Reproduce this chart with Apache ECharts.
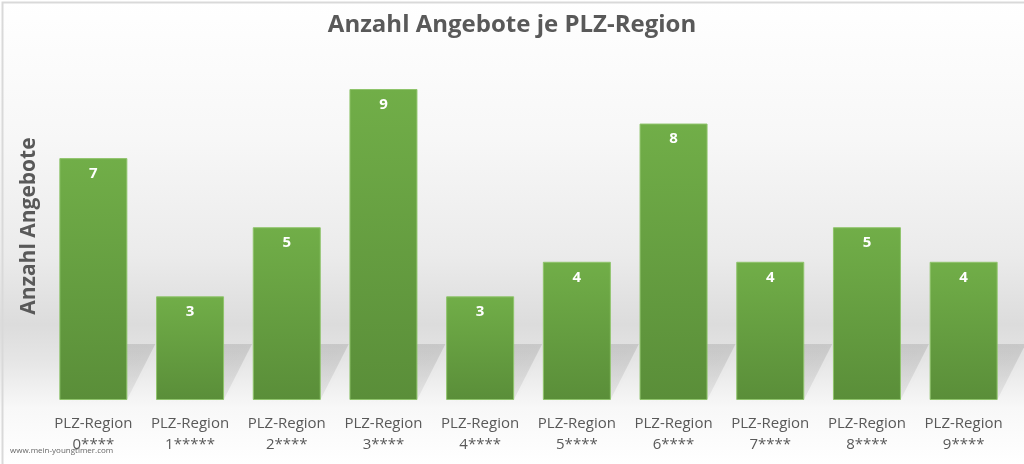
<!DOCTYPE html>
<html>
<head>
<meta charset="utf-8">
<script src="https://cdn.jsdelivr.net/npm/echarts@6/dist/echarts.min.js"></script>
<style>
  html, body { margin: 0; padding: 0; background: #fff; }
  #chart { width: 1024px; height: 464px; }
</style>
</head>
<body>
<div id="chart"></div>
<script>
const regions = ["0****", "1*****", "2****", "3****", "4****", "5****", "6****", "7****", "8****", "9****"];
const offers = [7, 3, 5, 9, 3, 4, 8, 4, 5, 4];
const titleText = "Anzahl Angebote je PLZ-Region";
const yName = "Anzahl Angebote";
const siteText = "www.mein-youngtimer.com";

const categories = regions.map((r) => "PLZ-Region\n" + r);
const chart = echarts.init(document.getElementById("chart"));

const textGrey = "#595959";

chart.setOption({
    animation: false,
    backgroundColor: {
        type: "linear", x: 0, y: 0, x2: 0, y2: 1,
        colorStops: [
            { offset: 0, color: "#ffffff" },
            { offset: 0.3, color: "#f7f7f7" },
            { offset: 0.55, color: "#ebebeb" },
            { offset: 0.7, color: "#dcdcdc" },
            { offset: 0.78, color: "#e6e6e6" },
            { offset: 0.88, color: "#f8f8f8" },
            { offset: 1, color: "#ffffff" },
        ],
    },
    title: {
        text: titleText,
        left: "center",
        top: 8,
        textStyle: {
            fontFamily: "Open Sans",
            fontWeight: "bold",
            fontSize: 24,
            color: textGrey,
        },
    },
    grid: { left: 45, right: 12, top: 89, bottom: 64 },
    xAxis: {
        type: "category",
        data: categories,
        axisLine: { show: false },
        axisTick: { show: false },
        axisLabel: {
            interval: 0,
            hideOverlap: false,
            fontFamily: "Open Sans",
            fontSize: 15,
            lineHeight: 21,
            color: textGrey,
            margin: 13,
        },
    },
    yAxis: {
        type: "value",
        min: 0,
        max: 9,
        axisLine: { show: false },
        axisTick: { show: false },
        axisLabel: { show: false },
        splitLine: { show: false },
    },
    series: [
        {
            // soft slanted shadow behind each bar
            type: "custom",
            silent: true,
            z: 1,
            data: offers.map((v, i) => [i, v]),
            renderItem(params, api) {
                const base = api.coord([api.value(0), 0]);
                const w = 68;
                const h = 55;
                const dx = 28;
                const l = base[0] - w / 2;
                const r = base[0] + w / 2;
                const y = base[1] - 1;
                return {
                    type: "polygon",
                    shape: { points: [[l, y], [r, y], [r + dx, y - h], [l + dx, y - h]] },
                    style: {
                        fill: {
                            type: "linear", x: 0, y: 0, x2: 0, y2: 1,
                            colorStops: [
                                { offset: 0, color: "rgba(0,0,0,0.11)" },
                                { offset: 1, color: "rgba(0,0,0,0.06)" },
                            ],
                        },
                        shadowBlur: 10,
                        shadowColor: "rgba(0,0,0,0.12)",
                    },
                };
            },
        },
        {
            type: "bar",
            z: 2,
            data: offers,
            barWidth: 68,
            itemStyle: {
                color: {
                    type: "linear", x: 0, y: 0, x2: 0, y2: 1,
                    colorStops: [
                        { offset: 0, color: "#71ae48" },
                        { offset: 1, color: "#5a8e39" },
                    ],
                },
                borderColor: "#8fc46b",
                borderWidth: 1,
            },
            label: {
                show: true,
                position: "insideTop",
                distance: 8,
                color: "#ffffff",
                fontFamily: "Open Sans",
                fontWeight: "bold",
                fontSize: 15,
            },
        },
    ],
    graphic: [
        {
            type: "rect",
            left: 0,
            top: 0,
            silent: true,
            shape: { width: 1023, height: 463 },
            style: { fill: "none", stroke: "#d9d9d9", lineWidth: 2 },
        },
        {
            type: "text",
            x: 29,
            y: 226,
            rotation: Math.PI / 2,
            style: {
                text: yName,
                fontFamily: "Open Sans",
                fontWeight: "bold",
                fontSize: 21,
                fill: textGrey,
                align: "center",
                verticalAlign: "middle",
            },
        },
        {
            type: "text",
            left: 10,
            top: 447,
            style: {
                text: siteText,
                fontFamily: "Open Sans",
                fontSize: 8,
                fill: "#666666",
            },
        },
    ],
});
</script>
</body>
</html>
